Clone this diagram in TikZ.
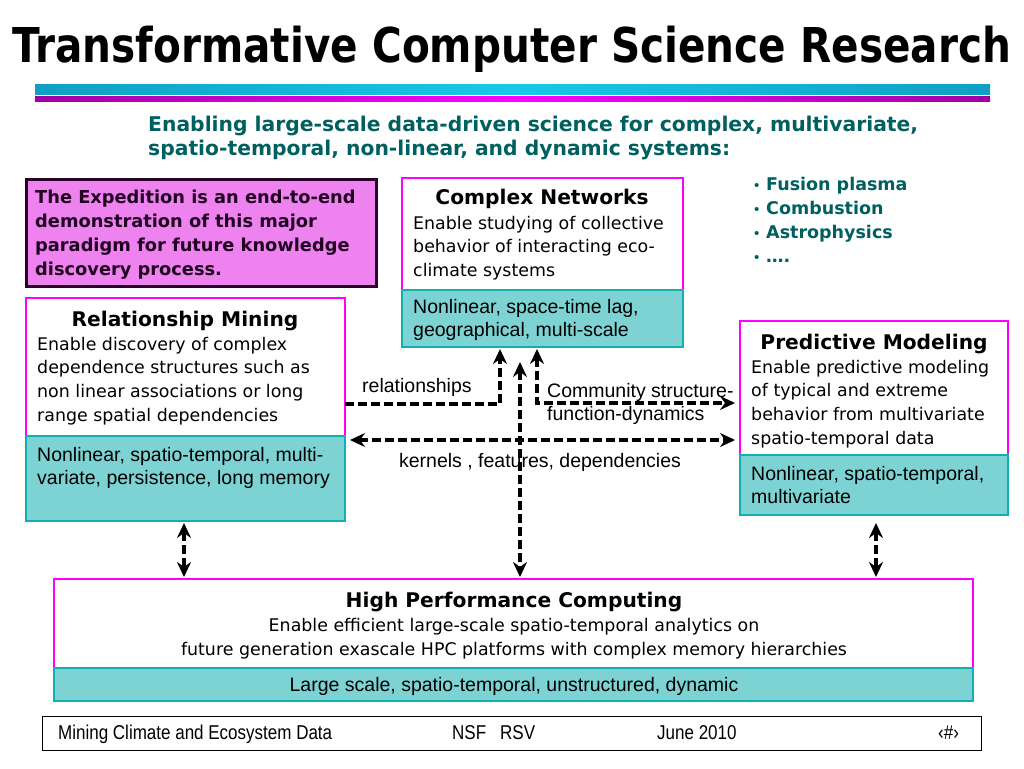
\documentclass[tikz,border=0pt]{standalone}
\usepackage{fontspec}
\setmainfont{Liberation Sans}
\newfontfamily\tah{DejaVu Sans}
\newfontfamily\titlef[FakeStretch=0.845]{DejaVu Sans}
\newfontfamily\narrowf[FakeStretch=0.85]{Liberation Sans}
\usetikzlibrary{arrows.meta,calc}
\definecolor{mag}{RGB}{255,0,255}
\definecolor{tealfill}{RGB}{125,211,211}
\definecolor{tealdraw}{RGB}{16,176,176}
\definecolor{pinkfill}{RGB}{238,130,238}
\definecolor{pinkdraw}{RGB}{40,0,40}
\definecolor{subcol}{RGB}{0,96,96}
\definecolor{cyanmid}{RGB}{24,200,232}
\definecolor{cyanend}{RGB}{14,160,196}
\definecolor{magend}{RGB}{160,0,160}
\tikzset{
  whitebox/.style={draw=mag,line width=2.5pt,fill=white,anchor=north west,inner sep=0,outer sep=0},
  tealbox/.style={draw=tealdraw,line width=2.5pt,fill=tealfill,anchor=north west,inner sep=0,outer sep=0},
  pinkbox/.style={draw=pinkdraw,line width=3pt,fill=pinkfill,anchor=north west,inner sep=0,outer sep=0},
  head/.style={inner sep=0,anchor=base,font=\tah\bfseries\fontsize{20.2}{24}\selectfont},
  body/.style={inner sep=0,anchor=base west,align=left,font=\tah\fontsize{17.4}{23.8}\selectfont},
  ar/.style={inner sep=0,anchor=base west,align=left,font=\fontsize{19.5}{23}\selectfont},
  arc/.style={inner sep=0,anchor=base,align=center,font=\fontsize{19.5}{23}\selectfont},
  foot/.style={inner sep=0,anchor=base west,font=\narrowf\fontsize{20}{24}\selectfont},
  dar/.style={line width=3.2pt,dash pattern=on 9pt off 4pt,black},
  ah/.tip={Stealth[length=15pt,width=14pt,inset=5pt]}
}
\begin{document}
\begin{tikzpicture}[x=1pt,y=-1pt]
\useasboundingbox[fill=white] (0,0) rectangle (1024,768);
% title
\node[inner sep=0,anchor=base west,font=\titlef\bfseries\fontsize{48}{56}\selectfont] (title) at (12,63) {Transformative Computer Science Research};
\fill[left color=cyanend,right color=cyanend,middle color=cyanmid] (35,84) rectangle (990,94);
\fill[left color=magend,right color=magend,middle color=mag] (35,96) rectangle (990,101);
% subtitle (base = last line)
\node[inner sep=0,anchor=base west,align=left,text=subcol,font=\tah\bfseries\fontsize{20.3}{24.5}\selectfont] (sub) at (148,155.5)
  {Enabling large-scale data-driven science for complex, multivariate,\\spatio-temporal, non-linear, and dynamic systems:};
% expedition box
\node[pinkbox,minimum width=350,minimum height=107] (exp) at (26,179) {};
\node[inner sep=0,anchor=base west,align=left,text=pinkdraw!80!black,font=\tah\bfseries\fontsize{17.8}{24}\selectfont] (expt) at (35,275)
  {The Expedition is an end-to-end\\demonstration of this major\\paradigm for future knowledge\\discovery process.};
% complex networks
\node[whitebox,minimum width=281,minimum height=112] (cnw) at (402,178) {};
\node[tealbox,minimum width=281,minimum height=57] (cnt) at (402,290) {};
\node[head] (cnh) at (542,204) {Complex Networks};
\node[body] (cnb) at (413,276.6) {Enable studying of collective\\behavior of interacting eco-\\climate systems};
\node[ar] (cnx) at (413,336) {Nonlinear, space-time lag,\\geographical, multi-scale};
% bullets
\node[inner sep=0,anchor=base west,align=left,text=subcol,font=\fontsize{15}{24}\selectfont] (bul) at (754,262) {•\\•\\•\\•};
\node[inner sep=0,anchor=base west,align=left,text=subcol,font=\tah\bfseries\fontsize{17.5}{24}\selectfont] (bult) at (766,262)
  {Fusion plasma\\Combustion\\Astrophysics\\….};
% relationship mining
\node[whitebox,minimum width=319,minimum height=138] (rmw) at (26,298) {};
\node[tealbox,minimum width=319,minimum height=85] (rmt) at (26,436) {};
\node[head] (rmh) at (185,326) {Relationship Mining};
\node[body] (rmb) at (37,421.4) {Enable discovery of complex\\dependence structures such as\\non linear associations or long\\range spatial dependencies};
\node[ar] (rmx) at (37,484) {Nonlinear, spatio-temporal, multi-\\variate, persistence, long memory};
% predictive modeling
\node[whitebox,minimum width=268,minimum height=134] (pmw) at (740,321) {};
\node[tealbox,minimum width=268,minimum height=60] (pmt) at (740,455) {};
\node[head] (pmh) at (874,349) {Predictive Modeling};
\node[body] (pmb) at (751,444.4) {Enable predictive modeling\\of typical and extreme\\behavior from multivariate\\spatio-temporal data};
\node[ar] (pmx) at (751,503) {Nonlinear, spatio-temporal,\\multivariate};
% HPC
\node[whitebox,minimum width=919,minimum height=89] (hpw) at (54,579) {};
\node[tealbox,minimum width=919,minimum height=33] (hpt) at (54,668) {};
\node[head] (hph) at (514,607) {High Performance Computing};
\node[body,anchor=base,align=center,font=\tah\fontsize{17.4}{24}\selectfont] (hpb) at (514,655) {Enable efficient large-scale spatio-temporal analytics on\\future generation exascale HPC platforms with complex memory hierarchies};
\node[arc] (hpx) at (514,691) {Large scale, spatio-temporal, unstructured, dynamic};
% connectors
\draw[dar,-{ah}] ($(rmw.north east)+(0,106)$) -| ($(cnt.south west)+(98,2)$);
\draw[dar,{ah}-{ah}] ($(cnt.south west)+(135,2)$) |- ($(pmw.north west)+(-5,82)$);
\draw[dar,{ah}-{ah}] ($(rmw.south east)+(5,4)$) -- ($(pmw.south west)+(-5,-15)$);
\draw[dar,{ah}-{ah}] ($(cnt.south west)+(118,15)$) -- ($(hpw.north west)+(466,-2)$);
\draw[dar,{ah}-{ah}] ($(rmt.south west)+(158,2)$) -- ($(hpw.north west)+(130,-2)$);
\draw[dar,{ah}-{ah}] ($(pmt.south west)+(136,8)$) -- ($(hpw.north west)+(822,-2)$);
% connector labels
\node[ar] (lrel) at (362,392) {relationships};
\node[ar] (lcom) at (547,420) {Community structure-\\function-dynamics};
\node[arc] (lker) at (540,467) {kernels , features, dependencies};
% footer
\node[draw=black,line width=1.2pt,anchor=north west,minimum width=939,minimum height=34,inner sep=0] (fbox) at (42,716) {};
\node[foot] (f1) at (58,739) {Mining Climate and Ecosystem Data};
\node[foot] (f2) at (452,739) {NSF\hspace{14pt}RSV};
\node[foot] (f3) at (657,739) {June 2010};
\node[foot] (f4) at (938,739) {‹\#›};
\end{tikzpicture}
\end{document}
